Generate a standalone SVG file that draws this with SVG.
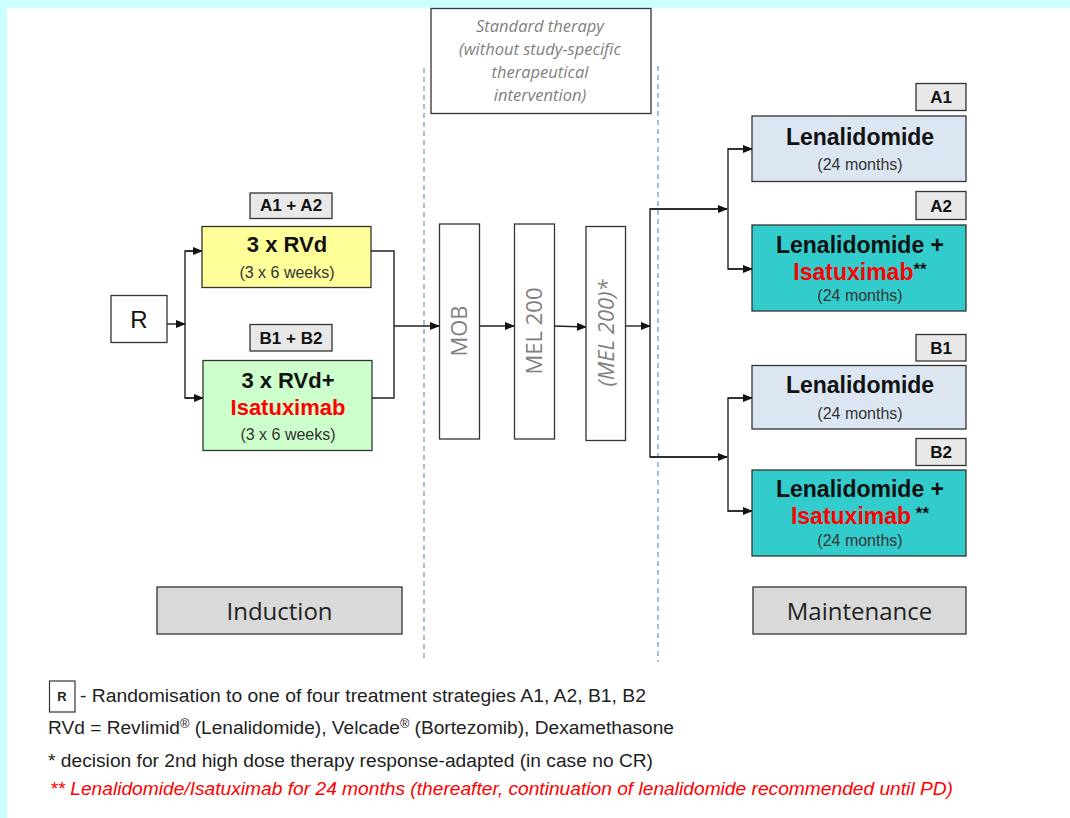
<svg xmlns="http://www.w3.org/2000/svg" width="1070" height="818" viewBox="0 0 1070 818">
<style>
.box{stroke:#333;stroke-width:1.3}
.lbl{fill:#e8e8e8;stroke:#333;stroke-width:1.3}
.sans{font-family:"Liberation Sans",Arial,sans-serif}
.b{font-weight:bold}
.t22{font-size:22px;fill:#111}
.t16{font-size:16px;fill:#333}
.t17{font-size:17px;fill:#111}
.red{fill:#ff0000}
.gray{font-family:"Open Sans","Noto Sans",sans-serif;fill:#7f7f7f}
.cal{font-family:"Open Sans","Noto Sans",sans-serif;fill:#222}
.leg{font-family:"Liberation Sans",Arial,sans-serif;font-size:18px;fill:#222}
.conn{fill:none;stroke:#222;stroke-width:1.4}
.dash{stroke:#6f9bd1;stroke-width:1.3;stroke-dasharray:5 4;fill:none}
</style>
<defs>
<marker id="ah" markerWidth="10" markerHeight="8" refX="9" refY="4" orient="auto" markerUnits="userSpaceOnUse">
<path d="M0,0 L10,4 L0,8 Z" fill="#111"/>
</marker>
</defs>
<rect x="0" y="0" width="1070" height="818" fill="#ffffff"/>
<rect x="0" y="0" width="1070" height="8" fill="#ccffff"/>
<rect x="0" y="0" width="7" height="818" fill="#ccffff"/>

<g id="dividers">
<line class="dash" x1="424" y1="68" x2="424" y2="662"/>
<line class="dash" x1="658" y1="66" x2="658" y2="662"/>
</g>

<g id="standard-therapy">
<rect x="431" y="8.5" width="220" height="105" fill="#fff" class="box"/>
<g class="gray" font-style="italic" font-size="16.5px" text-anchor="middle" fill="#8c8c8c">
<text x="540" y="32">Standard therapy</text>
<text x="540" y="55">(without study-specific</text>
<text x="540" y="78">therapeutical</text>
<text x="540" y="101">intervention)</text>
</g>
</g>

<g id="connectors">
<line class="conn" x1="167" y1="324" x2="185" y2="324" marker-end="url(#ah)"/>
<polyline class="conn" points="202,251 185,251 185,398 203,398"/>
<line class="conn" x1="185" y1="251" x2="202" y2="251" marker-end="url(#ah)"/>
<line class="conn" x1="185" y1="398" x2="203" y2="398" marker-end="url(#ah)"/>
<polyline class="conn" points="371,251 394,251 394,398 372,398"/>
<line class="conn" x1="394" y1="326" x2="439" y2="326" marker-end="url(#ah)"/>
<line class="conn" x1="479" y1="326" x2="514" y2="326" marker-end="url(#ah)"/>
<line class="conn" x1="554" y1="326" x2="586" y2="327" marker-end="url(#ah)"/>
<line class="conn" x1="625" y1="326" x2="650" y2="326" marker-end="url(#ah)"/>
<polyline class="conn" points="727,209 650,209 650,457 727,457"/>
<line class="conn" x1="650" y1="209" x2="727" y2="209" marker-end="url(#ah)"/>
<line class="conn" x1="650" y1="457" x2="727" y2="457" marker-end="url(#ah)"/>
<polyline class="conn" points="752,149 728,149 728,269 752,269"/>
<line class="conn" x1="728" y1="149" x2="752" y2="149" marker-end="url(#ah)"/>
<line class="conn" x1="728" y1="269" x2="752" y2="269" marker-end="url(#ah)"/>
<polyline class="conn" points="752,398 728,398 728,511 752,511"/>
<line class="conn" x1="728" y1="398" x2="752" y2="398" marker-end="url(#ah)"/>
<line class="conn" x1="728" y1="511" x2="752" y2="511" marker-end="url(#ah)"/>
</g>

<g id="node-R">
<rect x="111" y="295.5" width="56" height="47" fill="#fff" class="box"/>
<text x="139" y="328" class="sans" font-size="24px" fill="#111" text-anchor="middle">R</text>
</g>

<g id="label-A1A2">
<rect x="250" y="193" width="82" height="25.5" class="lbl"/>
<text x="291" y="211" class="sans b t17" text-anchor="middle">A1  + A2</text>
</g>
<g id="node-RVd">
<rect x="202" y="226.5" width="169" height="61" fill="#ffff99" class="box"/>
<text x="287" y="252" class="sans b t22" text-anchor="middle">3 x RVd</text>
<text x="287" y="278" class="sans t16" text-anchor="middle">(3 x 6 weeks)</text>
</g>

<g id="label-B1B2">
<rect x="250" y="324.5" width="82" height="26.5" class="lbl"/>
<text x="291" y="344" class="sans b t17" text-anchor="middle">B1 + B2</text>
</g>
<g id="node-RVd-Isa">
<rect x="203" y="360.5" width="169" height="90" fill="#ccffcc" class="box"/>
<text x="288" y="388" class="sans b t22" text-anchor="middle">3 x RVd+</text>
<text x="288" y="415" class="sans b t22 red" text-anchor="middle">Isatuximab</text>
<text x="288" y="440" class="sans t16" text-anchor="middle">(3 x 6 weeks)</text>
</g>

<g id="node-MOB">
<rect x="439.5" y="224" width="40" height="215" fill="#fff" class="box"/>
<text class="gray" font-size="22px" text-anchor="middle" transform="translate(467,331) rotate(-90)">MOB</text>
</g>
<g id="node-MEL200">
<rect x="514.5" y="224" width="40" height="215" fill="#fff" class="box"/>
<text class="gray" font-size="22px" text-anchor="middle" transform="translate(542,331) rotate(-90)">MEL 200</text>
</g>
<g id="node-MEL200-opt">
<rect x="586" y="226.5" width="39.5" height="214" fill="#fff" class="box"/>
<text class="gray" font-size="22px" font-style="italic" text-anchor="middle" transform="translate(614,333) rotate(-90)">(MEL 200)*</text>
</g>

<g id="label-A1">
<rect x="916" y="83.5" width="50" height="27" class="lbl"/>
<text x="941" y="102.5" class="sans b t17" text-anchor="middle">A1</text>
</g>
<g id="node-A1">
<rect x="752" y="116" width="214" height="65.5" fill="#dce6f2" class="box"/>
<text x="860" y="145" class="sans b" font-size="23px" fill="#111" text-anchor="middle">Lenalidomide</text>
<text x="860" y="170" class="sans t16" text-anchor="middle">(24  months)</text>
</g>

<g id="label-A2">
<rect x="916" y="191.5" width="50" height="28" class="lbl"/>
<text x="941" y="211.5" class="sans b t17" text-anchor="middle">A2</text>
</g>
<g id="node-A2">
<rect x="752" y="225" width="214" height="86" fill="#33cccc" class="box"/>
<text x="860" y="252.5" class="sans b" font-size="23px" fill="#111" text-anchor="middle">Lenalidomide +</text>
<text x="860" y="280" class="sans b" font-size="23px" text-anchor="middle"><tspan fill="#ff0000">Isatuximab</tspan><tspan fill="#111" font-size="17px" dy="-5">**</tspan></text>
<text x="860" y="301" class="sans t16" text-anchor="middle">(24  months)</text>
</g>

<g id="label-B1">
<rect x="916" y="334.5" width="50" height="26.5" class="lbl"/>
<text x="941" y="353.5" class="sans b t17" text-anchor="middle">B1</text>
</g>
<g id="node-B1">
<rect x="752" y="365.5" width="214" height="63.5" fill="#dce6f2" class="box"/>
<text x="860" y="393" class="sans b" font-size="23px" fill="#111" text-anchor="middle">Lenalidomide</text>
<text x="860" y="418.5" class="sans t16" text-anchor="middle">(24  months)</text>
</g>

<g id="label-B2">
<rect x="916" y="438.5" width="50" height="27" class="lbl"/>
<text x="941" y="458" class="sans b t17" text-anchor="middle">B2</text>
</g>
<g id="node-B2">
<rect x="752" y="470" width="214" height="86" fill="#33cccc" class="box"/>
<text x="860" y="497" class="sans b" font-size="23px" fill="#111" text-anchor="middle">Lenalidomide +</text>
<text x="860" y="524" class="sans b" font-size="23px" text-anchor="middle"><tspan fill="#ff0000">Isatuximab</tspan><tspan fill="#111" font-size="17px" dy="-5"> **</tspan></text>
<text x="860" y="545.5" class="sans t16" text-anchor="middle">(24  months)</text>
</g>

<g id="phase-induction">
<rect x="157" y="587" width="245" height="47" fill="#d9d9d9" class="box"/>
<text x="279.5" y="619.5" class="cal" font-size="24px" text-anchor="middle">Induction</text>
</g>
<g id="phase-maintenance">
<rect x="753" y="587" width="213" height="47" fill="#d9d9d9" class="box"/>
<text x="859.5" y="619.5" class="cal" font-size="24px" text-anchor="middle">Maintenance</text>
</g>

<g id="legend">
<rect x="49.5" y="681" width="25.5" height="31" fill="#fff" stroke="#333" stroke-width="1.2"/>
<text x="62" y="701" class="sans b" font-size="13px" fill="#222" text-anchor="middle">R</text>
<text x="80" y="701.5" class="leg" textLength="566" lengthAdjust="spacingAndGlyphs">- Randomisation to one of four treatment  strategies A1, A2, B1, B2</text>
<text x="48" y="734" class="leg" textLength="626" lengthAdjust="spacingAndGlyphs">RVd = Revlimid<tspan font-size="12px" dy="-6">®</tspan><tspan dy="6"> (Lenalidomide),  Velcade</tspan><tspan font-size="12px" dy="-6">®</tspan><tspan dy="6"> (Bortezomib),  Dexamethasone</tspan></text>
<text x="48" y="766.5" class="leg" textLength="605" lengthAdjust="spacingAndGlyphs">* decision for  2nd high dose therapy  response-adapted (in case no CR)</text>
<text x="50" y="795" class="leg" font-style="italic" fill="#ff0000" style="fill:#ff0000" textLength="903" lengthAdjust="spacingAndGlyphs">** Lenalidomide/Isatuximab for 24 months (thereafter,  continuation of lenalidomide recommended until PD)</text>
</g>
</svg>
